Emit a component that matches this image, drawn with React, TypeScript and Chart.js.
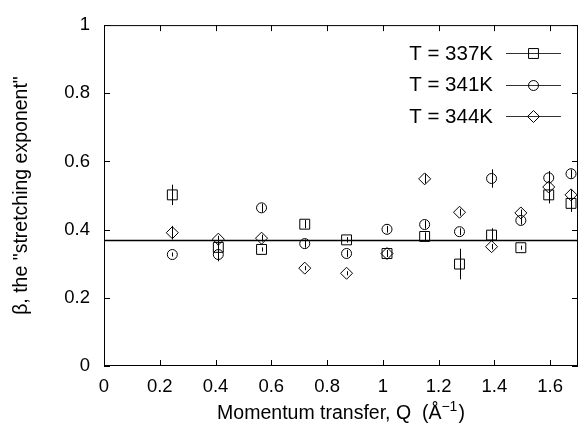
import React, { useEffect, useRef } from "react";
import { Chart, registerables } from "chart.js";

Chart.register(...registerables);

const qValues = [0.245, 0.41, 0.565, 0.72, 0.87, 1.015, 1.15, 1.275, 1.39, 1.495, 1.595, 1.675];
const beta337 = [0.502, 0.348, 0.342, 0.416, 0.37, 0.33, 0.38, 0.299, 0.384, 0.347, 0.502, 0.477];
const err337 = [0.03, 0.02, 0.006, 0.012, 0.008, 0.01, 0.012, 0.045, 0.02, 0.006, 0.025, 0.025];
const beta341 = [0.327, 0.327, 0.464, 0.359, 0.33, 0.401, 0.415, 0.394, 0.55, 0.427, 0.552, 0.564];
const err341 = [0.006, 0.02, 0.012, 0.012, 0.01, 0.01, 0.012, 0.01, 0.027, 0.012, 0.02, 0.012];
const beta344 = [0.391, 0.372, 0.375, 0.287, 0.272, 0.33, 0.549, 0.451, 0.35, 0.449, 0.525, 0.502];
const err344 = [0.02, 0.01, 0.01, 0.006, 0.006, 0.01, 0.014, 0.01, 0.008, 0.01, 0.015, 0.015];
const seriesNames = ["T = 337K", "T = 341K", "T = 344K"];
const refBeta = 0.37;
const xTickValues = [0, 0.2, 0.4, 0.6, 0.8, 1, 1.2, 1.4, 1.6];
const yTickValues = [0, 0.2, 0.4, 0.6, 0.8, 1];
const xTitle = "Momentum transfer, Q  (Å";
const xTitleSup = "−1";
const yTitle = "β, the \"stretching exponent\"";

const FONT = "'Liberation Sans', Arial, Helvetica, sans-serif";

const styles = ["rect", "circle", "rectRot"];
const radii = [7, 5, 6];
const errs = [err337, err341, err344];

function drawMarker(ctx: CanvasRenderingContext2D, style: string, x: number, y: number, r: number) {
  ctx.beginPath();
  if (style === "rect") {
    const s = Math.SQRT1_2 * r;
    ctx.rect(x - s, y - s, 2 * s, 2 * s);
  } else if (style === "circle") {
    ctx.arc(x, y, r, 0, Math.PI * 2);
  } else {
    ctx.moveTo(x, y - r);
    ctx.lineTo(x + r, y);
    ctx.lineTo(x, y + r);
    ctx.lineTo(x - r, y);
    ctx.closePath();
  }
  ctx.stroke();
}

const framePlugin = {
  id: "gnuplotFrame",
  beforeDatasetsDraw(chart: any) {
    const { ctx, chartArea, scales } = chart;
    const { left, right } = chartArea;
    const y = scales.y;
    ctx.save();
    ctx.strokeStyle = "#000";
    ctx.lineWidth = 1.5;
    const ry = Math.round(y.getPixelForValue(refBeta)) + 0.5;
    ctx.beginPath();
    ctx.moveTo(left, ry);
    ctx.lineTo(right, ry);
    ctx.stroke();
    ctx.restore();
  },
  afterDatasetsDraw(chart: any) {
    const { ctx, chartArea, scales } = chart;
    const { left, right, top, bottom } = chartArea;
    const x = scales.x;
    const y = scales.y;
    ctx.save();
    // error bars
    ctx.strokeStyle = "#000";
    ctx.lineWidth = 1;
    chart.data.datasets.forEach((ds: any, di: number) => {
      ds.data.forEach((p: any, i: number) => {
        const e = errs[di][i];
        const px = Math.round(x.getPixelForValue(p.x)) + 0.5;
        ctx.beginPath();
        ctx.moveTo(px, y.getPixelForValue(p.y + e));
        ctx.lineTo(px, y.getPixelForValue(p.y - e));
        ctx.stroke();
      });
    });
    // frame
    ctx.lineWidth = 1;
    ctx.strokeRect(left + 0.5, top + 0.5, right - left - 1, bottom - top - 1);
    const tl = 6;
    ctx.beginPath();
    xTickValues.forEach((v) => {
      const px = Math.round(x.getPixelForValue(v)) + 0.5;
      ctx.moveTo(px, bottom);
      ctx.lineTo(px, bottom - tl);
      ctx.moveTo(px, top);
      ctx.lineTo(px, top + tl);
    });
    yTickValues.forEach((v) => {
      const py = Math.round(y.getPixelForValue(v)) + 0.5;
      ctx.moveTo(left, py);
      ctx.lineTo(left + tl, py);
      ctx.moveTo(right, py);
      ctx.lineTo(right - tl, py);
    });
    ctx.stroke();

    // legend
    ctx.font = `20.5px ${FONT}`;
    ctx.textAlign = "right";
    ctx.textBaseline = "middle";
    ctx.fillStyle = "#000";
    seriesNames.forEach((name, i) => {
      const ly = 53 + i * 31.5;
      ctx.fillText(name, 493, ly + 1);
      ctx.strokeStyle = "#333";
      ctx.beginPath();
      ctx.moveTo(506, Math.round(ly) + 0.5);
      ctx.lineTo(561, Math.round(ly) + 0.5);
      ctx.stroke();
      ctx.strokeStyle = "#000";
      drawMarker(ctx, styles[i], 533.5, Math.round(ly) + 0.5, radii[i]);
    });

    // axis titles
    const tf = 19.5;
    ctx.font = `${tf}px ${FONT}`;
    ctx.textBaseline = "alphabetic";
    ctx.textAlign = "left";
    const mainW = ctx.measureText(xTitle).width;
    ctx.font = `14px ${FONT}`;
    const supW = ctx.measureText(xTitleSup).width;
    ctx.font = `${tf}px ${FONT}`;
    const closeW = ctx.measureText(")").width;
    const total = mainW + supW + closeW + 1;
    const cx = (left + right) / 2;
    let sx = cx - total / 2;
    const by = 419;
    ctx.fillText(xTitle, sx, by);
    sx += mainW;
    ctx.font = `14px ${FONT}`;
    ctx.fillText(xTitleSup, sx, by - 8);
    sx += supW + 1;
    ctx.font = `${tf}px ${FONT}`;
    ctx.fillText(")", sx, by);

    ctx.save();
    ctx.translate(22, (top + bottom) / 2);
    ctx.rotate(-Math.PI / 2);
    ctx.textAlign = "center";
    ctx.textBaseline = "middle";
    ctx.fillText(yTitle, 0, 0);
    ctx.restore();

    ctx.restore();
  },
};

export default function App() {
  const ref = useRef<HTMLCanvasElement | null>(null);
  useEffect(() => {
    document.body.style.margin = "0";
    const canvas = ref.current;
    if (!canvas) return;
    const mk = (vals: number[]) => vals.map((v, i) => ({ x: qValues[i], y: v }));
    const chart = new Chart(canvas, {
      type: "scatter",
      data: {
        datasets: [beta337, beta341, beta344].map((vals, i) => ({
          label: seriesNames[i],
          data: mk(vals),
          pointStyle: styles[i] as any,
          pointRadius: radii[i],
          pointBorderColor: "#000",
          pointBackgroundColor: "rgba(0,0,0,0)",
          pointBorderWidth: 1,
          showLine: false,
        })),
      },
      options: {
        responsive: false,
        animation: false,
        layout: { padding: { top: 17, right: 1, left: 0, bottom: 0 } },
        plugins: { legend: { display: false }, tooltip: { enabled: false } },
        scales: {
          x: {
            type: "linear",
            min: 0,
            max: 1.7,
            grid: { display: false, drawTicks: false },
            border: { display: false },
            afterBuildTicks: (axis: any) => {
              axis.ticks = xTickValues.map((v) => ({ value: v }));
            },
            afterFit: (axis: any) => {
              axis.height = 65;
            },
            ticks: {
              padding: 10,
              color: "#000",
              font: { family: FONT, size: 18.5 },
              maxRotation: 0,
              autoSkip: false,
              callback: (v: any) => String(v),
            },
          },
          y: {
            type: "linear",
            min: 0,
            max: 1,
            grid: { display: false, drawTicks: false },
            border: { display: false },
            afterBuildTicks: (axis: any) => {
              axis.ticks = yTickValues.map((v) => ({ value: v }));
            },
            afterFit: (axis: any) => {
              axis.width = 104;
            },
            ticks: {
              padding: 14,
              color: "#000",
              font: { family: FONT, size: 18.5 },
              callback: (v: any) => String(v),
            },
          },
        },
      },
      plugins: [framePlugin],
    });
    return () => chart.destroy();
  }, []);
  return (
    <div style={{ width: 586, height: 431, background: "#fff" }}>
      <canvas ref={ref} width={586} height={431} />
    </div>
  );
}
